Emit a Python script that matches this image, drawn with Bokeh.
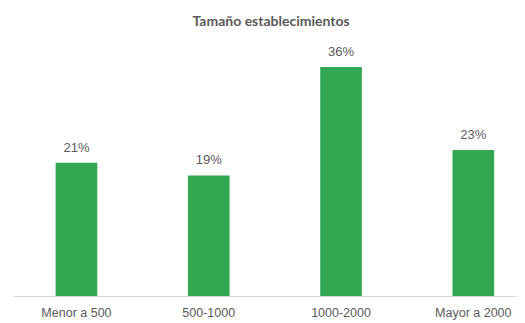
from bokeh.plotting import figure
from bokeh.models import ColumnDataSource, Range1d, FixedTicker, LabelSet, Title
from bokeh.core.properties import value
from bokeh.embed import file_html
from bokeh.resources import INLINE

categories = ["Menor a 500", "500-1000", "1000-2000", "Mayor a 2000"]
values = [21, 19, 36, 23]
labels = ["21%", "19%", "36%", "23%"]

xs = list(range(len(categories)))
src = ColumnDataSource(dict(x=xs, top=values, lab=labels))

p = figure(width=517, height=322, output_backend="svg", toolbar_location=None,
           x_range=Range1d(-0.476, 3.334), y_range=Range1d(0, 40),
           min_border_left=13, min_border_right=0, min_border_top=0, min_border_bottom=0)
p.title = Title(text="Tamaño establecimientos", align="left", text_font="Lato",
                text_font_size="14px", text_font_style="bold", text_color="#595959",
                offset=179, standoff=22, vertical_align="top")
p.outline_line_color = None
p.grid.grid_line_color = None
p.yaxis.visible = False

p.vbar(x="x", top="top", width=0.315, source=src, fill_color="#33A852", line_color=None)

p.add_layout(LabelSet(x="x", y="top", text="lab", source=src, text_align="center",
                      text_baseline="bottom", y_offset=8, text_font=value("Liberation Sans"),
                      text_font_size=value("13px"), text_color=value("#595959")))

ax = p.xaxis[0]
ax.ticker = FixedTicker(ticks=xs)
ax.major_label_overrides = {i: c for i, c in enumerate(categories)}
ax.major_tick_line_color = None
ax.minor_tick_line_color = None
ax.axis_line_color = "#D9D9D9"
ax.axis_line_width = 1
ax.major_label_text_font = "Liberation Sans"
ax.major_label_text_font_size = "12.5px"
ax.major_label_text_color = "#595959"
ax.major_label_standoff = 3

open("out.html", "w").write(file_html(p, INLINE))
